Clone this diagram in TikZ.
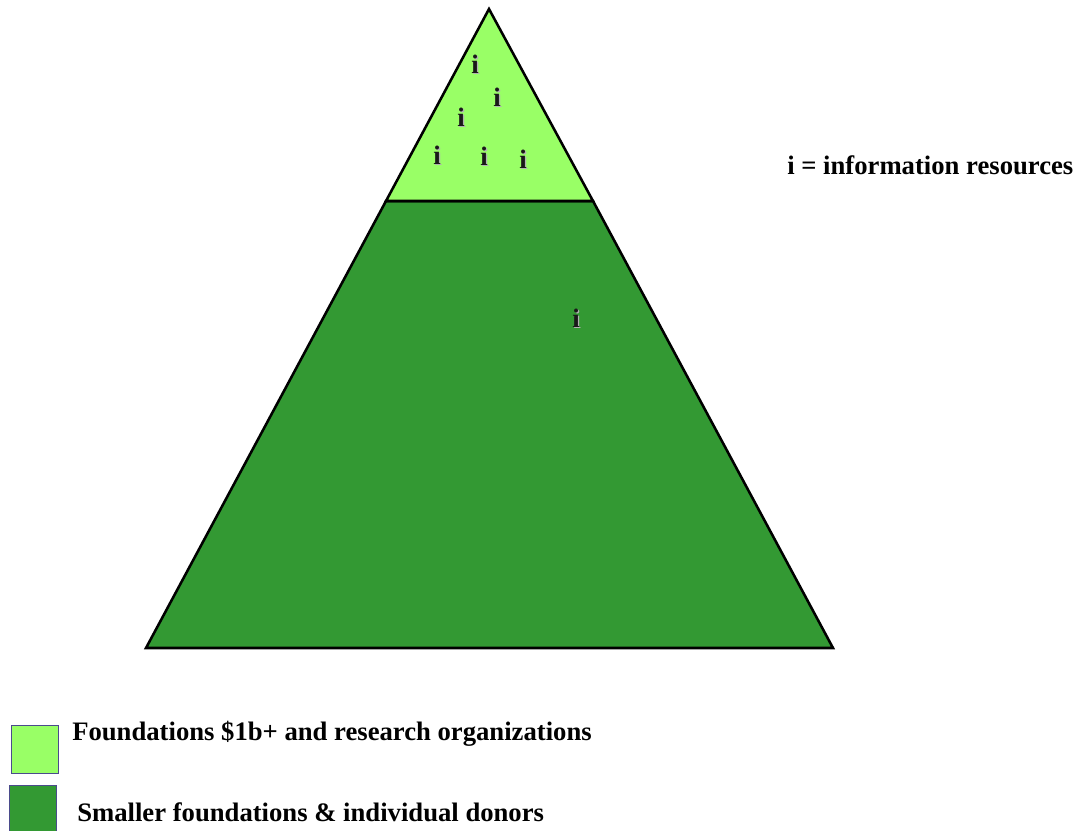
\documentclass[tikz,border=0pt]{standalone}
\usepackage{fontspec}
\setmainfont{Liberation Serif}
\definecolor{topgreen}{HTML}{99FF66}
\definecolor{basegreen}{HTML}{339933}
\definecolor{keyedge}{HTML}{4B4B8C}
\begin{document}
\begin{tikzpicture}[x=0.75pt,y=-0.75pt,
  layer/.style={draw=black,line width=1.9pt,line join=miter},
  info/.style={font=\fontsize{20}{22}\selectfont\bfseries,inner sep=0pt,text=black!90},
  infoshade/.style={font=\fontsize{20}{22}\selectfont\bfseries,inner sep=0pt,text=black!30},
  keybox/.style={draw=keyedge,line width=1pt,minimum width=35pt,minimum height=36pt,inner sep=0pt,anchor=north west},
  keytext/.style={font=\fontsize{20}{22}\selectfont\bfseries,inner sep=0pt,anchor=base west}]
\useasboundingbox (0,0) rectangle (1079,831);
% pyramid corners
\coordinate (apex) at (489,9);
\coordinate (bl) at (146,648);
\coordinate (br) at (833,648);
\coordinate (ml) at (386,201);
\coordinate (mr) at (593,201);
% lower band and top cap
\filldraw[layer,fill=basegreen] (ml) -- (mr) -- (br) -- (bl) -- cycle;
\filldraw[layer,fill=topgreen] (apex) -- (mr) -- (ml) -- cycle;
% information resource markers
\foreach \n/\px/\py in {a/475/64,b/497/97,c/461/117,d/437/155,e/484/156,f/523/159,g/576/318}{
  \node[infoshade] (\n s) at (\px+1.3,\py+1.3) {i};
  \node[info] (\n) at (\px,\py) {i};
}
\node[keytext] (legendi) at (787,175) {i = information resources};
% key
\node[keybox,fill=topgreen] (k1) at (11,725) {};
\node[keybox,fill=basegreen] (k2) at (9,785) {};
\node[keytext] (t1) at (72,740) {Foundations \$1b+ and research organizations};
\node[keytext] (t2) at (77,821) {Smaller foundations \& individual donors};
\end{tikzpicture}
\end{document}
